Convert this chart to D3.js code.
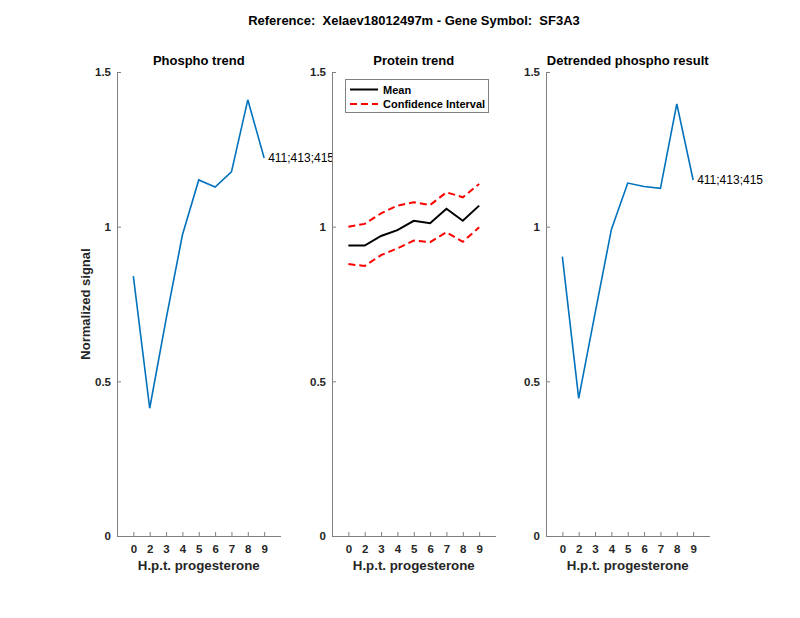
<!DOCTYPE html>
<html><head><meta charset="utf-8">
<script src="https://cdn.jsdelivr.net/npm/d3@7/dist/d3.min.js"></script>
<style>
body{margin:0;background:#fff;}
svg{font-family:"Liberation Sans",Arial,Helvetica,sans-serif;}
text{white-space:pre;}
</style></head>
<body><svg id="c" width="800" height="618"></svg>
<script>
const mainTitle = "Reference:  Xelaev18012497m - Gene Symbol:  SF3A3";
const xPositions = [1,2,3,4,5,6,7,8,9];
const xTickLabels = ["0","2","3","4","5","6","7","8","9"];
const yTicks = [0, 0.5, 1, 1.5];
const phospho = [0.84, 0.413, 0.70, 0.973, 1.151, 1.128, 1.177, 1.41, 1.222];
const proteinMean = [0.939, 0.939, 0.970, 0.989, 1.019, 1.011, 1.058, 1.019, 1.068];
const ciUpper = [1.0, 1.009, 1.043, 1.068, 1.079, 1.07, 1.111, 1.095, 1.138];
const ciLower = [0.879, 0.873, 0.908, 0.930, 0.955, 0.950, 0.982, 0.951, 0.998];
const detrended = [0.903, 0.445, 0.72, 0.991, 1.141, 1.130, 1.124, 1.397, 1.151];
const siteLabel = "411;413;415";
const panelTitles = ["Phospho trend", "Protein trend", "Detrended phospho result"];
const xAxisLabel = "H.p.t. progesterone";
const yAxisLabel = "Normalized signal";
const legendLabels = ["Mean", "Confidence Interval"];

(function(){
const svg = d3.select("#c");
svg.append("rect").attr("width",800).attr("height",618).attr("fill","#fff");
const plotTop = 72, plotBottom = 536, pw = 163.5;
const lefts = [117, 332, 546];
const axisCol = "#808080", textCol = "#262626", blue = "#0072BD";

svg.append("text").attr("x",414).attr("y",25).attr("text-anchor","middle")
  .attr("font-size",13).attr("font-weight","bold").attr("fill","#000").text(mainTitle);

const y = d3.scaleLinear().domain([0,1.5]).range([plotBottom, plotTop]);

lefts.forEach((L,i)=>{
  const x = d3.scaleLinear().domain([0,10]).range([L, L+pw]);
  const g = svg.append("g");
  g.append("rect").attr("x",L).attr("y",plotTop).attr("width",pw).attr("height",plotBottom-plotTop).attr("fill","#fff");
  const ya = g.append("g").attr("transform",`translate(${L},0)`)
    .call(d3.axisLeft(y).tickValues(yTicks).tickSizeInner(-4).tickSizeOuter(0).tickPadding(6).tickFormat(d3.format("")));
  const xa = g.append("g").attr("transform",`translate(0,${plotBottom})`)
    .call(d3.axisBottom(x).tickValues(xPositions).tickSizeInner(-4).tickSizeOuter(0).tickPadding(9)
      .tickFormat((d,j)=>xTickLabels[j]));
  [ya,xa].forEach(a=>{
    a.select(".domain").attr("stroke",axisCol);
    a.selectAll(".tick line").attr("stroke",axisCol);
    a.selectAll("text").attr("fill",textCol).attr("font-size",11.5).attr("font-weight","bold")
      .attr("font-family","'Liberation Sans',Arial,sans-serif");
  });
  g.append("text").attr("x",L+pw/2).attr("y",65).attr("text-anchor","middle")
    .attr("font-size",13).attr("font-weight","bold").attr("fill","#000").text(panelTitles[i]);
  g.append("text").attr("x",L+pw/2).attr("y",570).attr("text-anchor","middle")
    .attr("font-size",13.3).attr("font-weight","bold").attr("fill",textCol).text(xAxisLabel);
  const line = d3.line().x((d,j)=>x(xPositions[j])).y(d=>y(d));
  if(i===0 || i===2){
    const data = i===0 ? phospho : detrended;
    g.append("path").datum(data).attr("d",line).attr("fill","none").attr("stroke",blue).attr("stroke-width",1.6);
    g.append("text").attr("x",x(xPositions[8])+4).attr("y",y(data[8])+4.5)
      .attr("font-size",12).attr("fill","#000").text(siteLabel);
  } else {
    g.append("path").datum(ciUpper).attr("d",line).attr("fill","none").attr("stroke","#ff0000").attr("stroke-width",2).attr("stroke-dasharray","7,4");
    g.append("path").datum(ciLower).attr("d",line).attr("fill","none").attr("stroke","#ff0000").attr("stroke-width",2).attr("stroke-dasharray","7,4");
    g.append("path").datum(proteinMean).attr("d",line).attr("fill","none").attr("stroke","#000").attr("stroke-width",2);
    const lg = g.append("g");
    lg.append("rect").attr("x",345.5).attr("y",79.5).attr("width",143).attr("height",33).attr("fill","#fff").attr("stroke",axisCol).attr("stroke-width",1);
    lg.append("line").attr("x1",350).attr("x2",378).attr("y1",89.5).attr("y2",89.5).attr("stroke","#000").attr("stroke-width",2);
    lg.append("line").attr("x1",350).attr("x2",378).attr("y1",104).attr("y2",104).attr("stroke","#ff0000").attr("stroke-width",2).attr("stroke-dasharray","7,4");
    lg.append("text").attr("x",383).attr("y",93.5).attr("font-size",11).attr("font-weight","bold").attr("fill","#000").text(legendLabels[0]);
    lg.append("text").attr("x",383).attr("y",108).attr("font-size",11).attr("font-weight","bold").attr("fill","#000").text(legendLabels[1]);
  }
});
svg.append("text").attr("transform","translate(90,304) rotate(-90)").attr("text-anchor","middle")
  .attr("font-size",13).attr("font-weight","bold").attr("fill",textCol).text(yAxisLabel);
})();
</script></body></html>
